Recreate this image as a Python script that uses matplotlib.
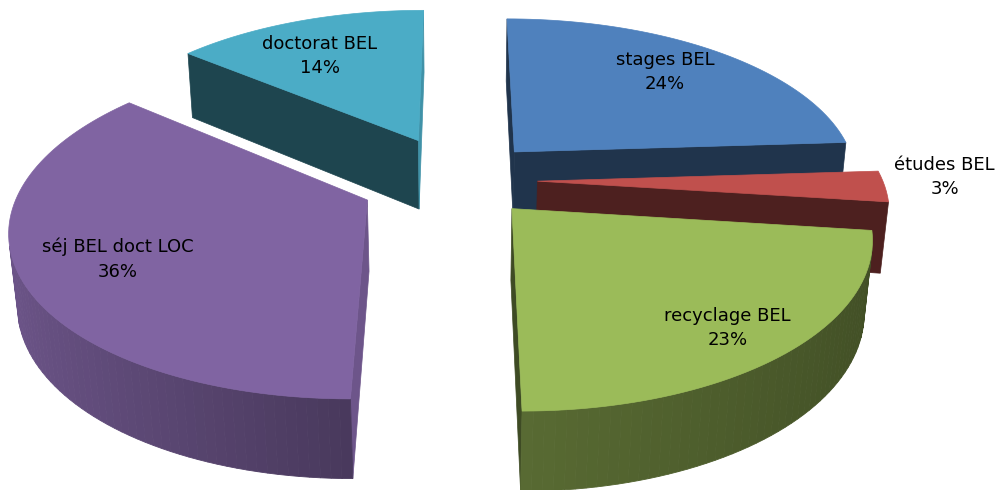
import numpy as np
import matplotlib.pyplot as plt
from matplotlib.patches import Polygon
from matplotlib.colors import to_rgb

# slices, clockwise from 12 o'clock
labels = ['stages BEL', 'études BEL', 'recyclage BEL', 'séj BEL doct LOC', 'doctorat BEL']
values = [24, 3, 23, 36, 14]
colors = ['#4F81BD', '#C0504D', '#9BBB59', '#8064A2', '#4BACC6']
explode = [0.245, 0.23, 0.23, 0.285, 0.28]

# label placement: radius along the slice middle + small pixel nudge
label_r = [0.78, 1.2, 0.82, 0.76, 0.8]
label_nudge = [(-10, 0), (-10, -10), (-3, 3), (10, 2), (0, 13)]

# camera / view settings (pixels)
phi = np.radians(27.9)
dist = 5.74
focal = 1981
cx, cy = 458, 180
thick = 0.235

c, s = np.cos(phi), np.sin(phi)
cam = np.array([0.0, -dist * c, dist * s])
fwd = np.array([0.0, c, -s])
up = np.array([0.0, s, c])


def project(p):
    p = np.atleast_2d(p)
    v = p - cam
    d = v @ fwd
    return np.column_stack([cx + focal * v[:, 0] / d, cy - focal * (v @ up) / d])


def visible(normal, point):
    return np.dot(normal, cam - point) > 0


def shade(col, k):
    return tuple(np.clip(np.array(to_rgb(col)) * k, 0, 1))


fig = plt.figure(figsize=(10.02, 4.9), dpi=100)
ax = fig.add_axes([0, 0, 1, 1])
ax.set_xlim(0, 1002)
ax.set_ylim(490, 0)
ax.axis('off')

fracs = np.array(values) / sum(values)
edges = np.concatenate([[0], np.cumsum(fracs)]) * 2 * np.pi

slices = []
for i in range(len(values)):
    t0, t1 = edges[i], edges[i + 1]
    tm = (t0 + t1) / 2
    off = explode[i] * np.array([np.sin(tm), np.cos(tm), 0.0])
    cen = off + 0.5 * np.array([np.sin(tm), np.cos(tm), 0.0])
    key = (cen - cam) @ fwd
    slices.append((key, i, t0, t1, tm, off))

# far slices first
slices.sort(key=lambda x: -x[0])

for key, i, t0, t1, tm, off in slices:
    col = colors[i]
    n = max(int(np.degrees(t1 - t0) / 1.5), 2)
    th = np.linspace(t0, t1, n)
    top = np.column_stack([np.sin(th), np.cos(th), np.zeros(n)]) + off
    bot = top - np.array([0, 0, thick])
    apex_t = off.copy()
    apex_b = off - np.array([0, 0, thick])

    # radial faces
    for nrm, pt in [(np.array([-np.cos(t0), np.sin(t0), 0]), top[0]),
                    (np.array([np.cos(t1), -np.sin(t1), 0]), top[-1])]:
        if visible(nrm, pt):
            k = 0.85 if nrm[0] > 0.5 else 0.4
            b = pt - np.array([0, 0, thick])
            quad = project(np.array([apex_t, pt, b, apex_b]))
            ax.add_patch(Polygon(quad, closed=True, fc=shade(col, k),
                                 ec=shade(col, k), lw=0.5))

    # outer wall
    for j in range(n - 1):
        tmid = (th[j] + th[j + 1]) / 2
        nrm = np.array([np.sin(tmid), np.cos(tmid), 0])
        if visible(nrm, top[j]):
            q = -np.sin(tmid)
            k = 0.57 + 0.28 * max(q, 0) + 0.15 * min(q, 0)
            quad = project(np.array([top[j], top[j + 1], bot[j + 1], bot[j]]))
            ax.add_patch(Polygon(quad, closed=True, fc=shade(col, k),
                                 ec=shade(col, k), lw=0.6))

    # top face
    poly = project(np.vstack([apex_t, top]))
    ax.add_patch(Polygon(poly, closed=True, fc=col, ec=col, lw=0.5))

# labels
for i in range(len(values)):
    tm = (edges[i] + edges[i + 1]) / 2
    p = (explode[i] + label_r[i]) * np.array([np.sin(tm), np.cos(tm), 0.0])
    x, y = project(p)[0]
    dx, dy = label_nudge[i]
    ax.text(x + dx, y + dy, f'{labels[i]}\n{values[i]}%', ha='center', va='center',
            fontsize=13, family='DejaVu Sans', linespacing=1.45, color='black')

fig.savefig('out.png', dpi=100)
